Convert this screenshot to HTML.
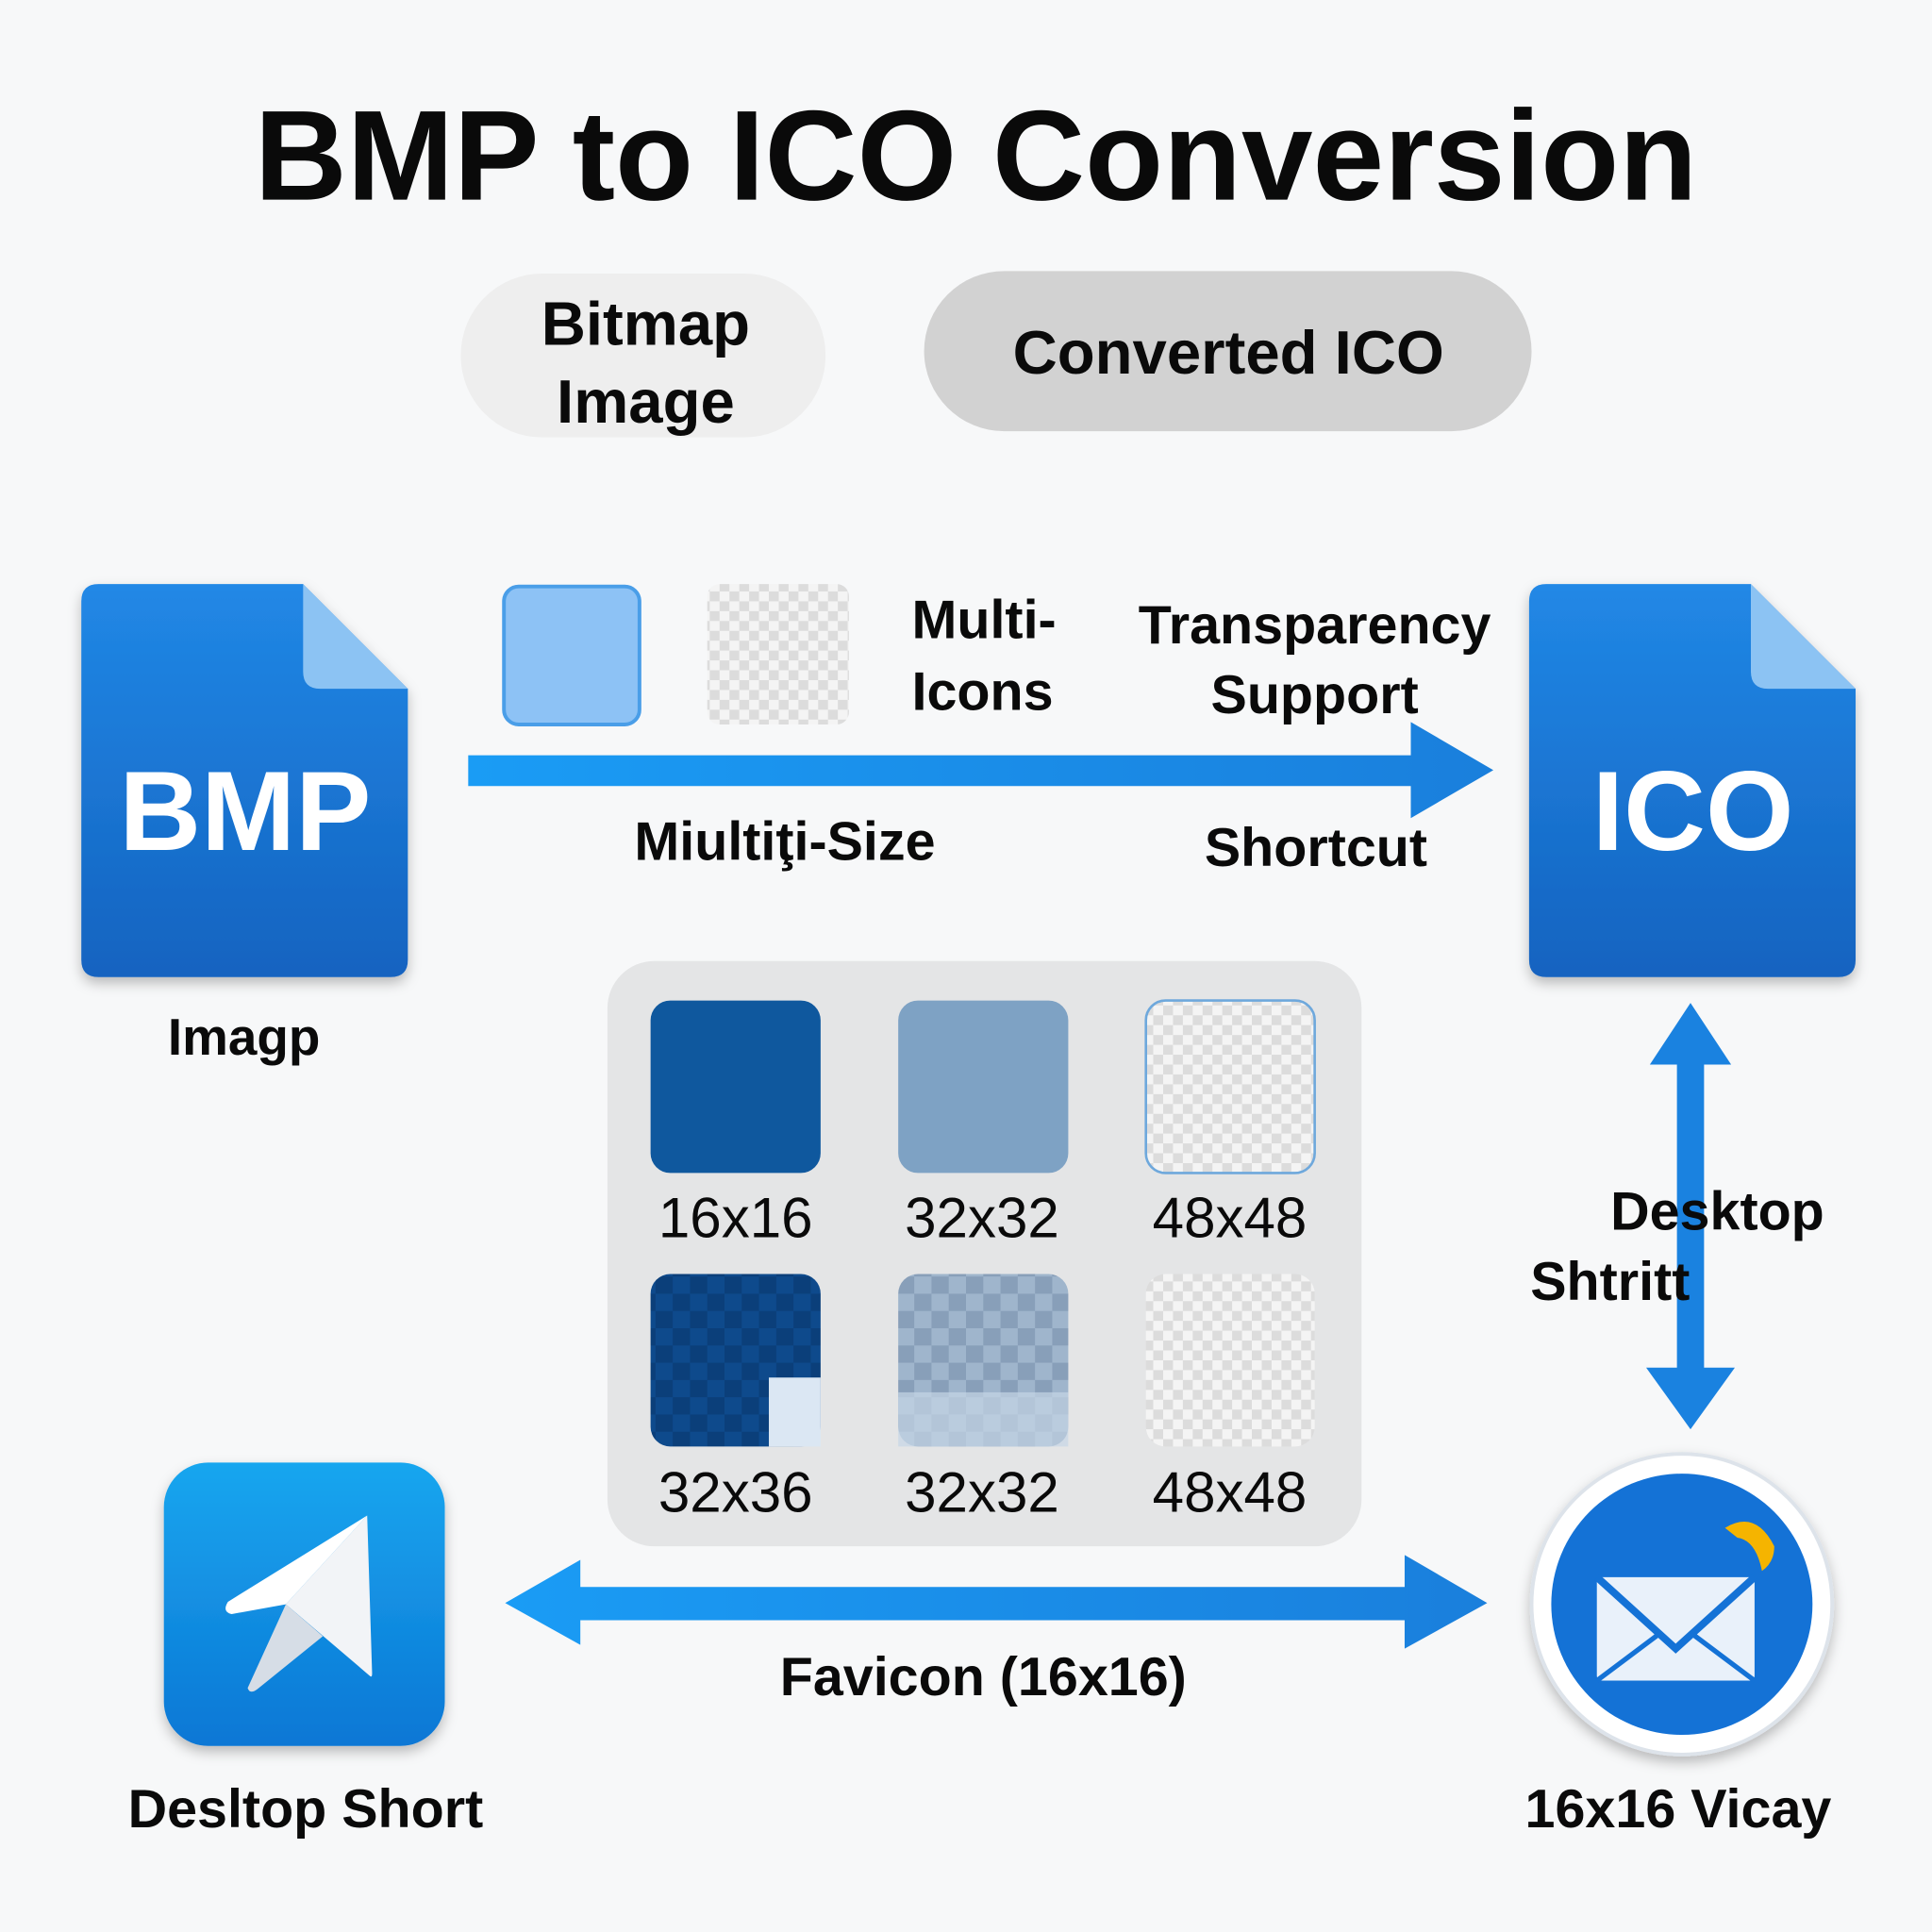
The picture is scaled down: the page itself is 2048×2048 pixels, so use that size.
<!DOCTYPE html>
<html><head><meta charset="utf-8"><style>
html,body{margin:0;padding:0;width:2048px;height:2048px;overflow:hidden;background:#f7f8f9}
svg{display:block}
text{font-family:"Liberation Sans",Arial,sans-serif;font-weight:bold;fill:#0a0a0a}
text.n{font-weight:normal}
</style></head><body>
<svg width="2048" height="2048" viewBox="0 0 1568 1568" xmlns="http://www.w3.org/2000/svg">
<defs>
<linearGradient id="doc" x1="0" y1="0" x2="0" y2="1"><stop offset="0" stop-color="#2188e6"/><stop offset="1" stop-color="#1463c0"/></linearGradient>
<linearGradient id="tg" x1="0" y1="0" x2="0" y2="1"><stop offset="0" stop-color="#19a6ef"/><stop offset="1" stop-color="#0b77d5"/></linearGradient>
<linearGradient id="arr" x1="0" y1="0" x2="1" y2="0"><stop offset="0" stop-color="#1a9cf5"/><stop offset="1" stop-color="#1a7fdc"/></linearGradient>
<pattern id="chk" width="16" height="16" patternUnits="userSpaceOnUse"><rect width="16" height="16" fill="#f4f4f4"/><rect width="8" height="8" fill="#dcdcdc"/><rect x="8" y="8" width="8" height="8" fill="#dcdcdc"/></pattern>
<pattern id="chkb" width="28" height="28" patternUnits="userSpaceOnUse"><rect width="28" height="28" fill="#0e4a8c"/><rect width="14" height="14" fill="#0b3f7a"/><rect x="14" y="14" width="14" height="14" fill="#0b3f7a"/></pattern>
<pattern id="chkg" width="28" height="28" patternUnits="userSpaceOnUse"><rect width="28" height="28" fill="#9fb5cc"/><rect width="14" height="14" fill="#889fb9"/><rect x="14" y="14" width="14" height="14" fill="#889fb9"/></pattern>
<filter id="sh" x="-20%" y="-20%" width="140%" height="140%"><feDropShadow dx="0" dy="5" stdDeviation="5" flood-opacity="0.25"/></filter>
</defs>

<text x="792" y="162" font-size="104" text-anchor="middle">BMP to ICO Conversion</text>

<rect x="374" y="222" width="296" height="133" rx="66" fill="#eeeeee"/>
<text x="524" y="280" font-size="50" text-anchor="middle">Bitmap</text>
<text x="524" y="343" font-size="50" text-anchor="middle">Image</text>
<rect x="750" y="220" width="493" height="130" rx="65" fill="#d2d2d2"/>
<text x="997" y="303" font-size="50" text-anchor="middle">Converted ICO</text>

<g filter="url(#sh)">
<path d="M80 474 H246 L331 559 V779 Q331 793 317 793 H80 Q66 793 66 779 V488 Q66 474 80 474 Z" fill="url(#doc)"/>
<path d="M246 474 V545 Q246 559 260 559 H331 Z" fill="#8cc3f3"/>
</g>
<text x="199" y="690" font-size="92" text-anchor="middle" style="fill:#fff">BMP</text>
<text x="198" y="856" font-size="42" text-anchor="middle">Imagp</text>

<g filter="url(#sh)">
<path d="M1255 474 H1421 L1506 559 V779 Q1506 793 1492 793 H1255 Q1241 793 1241 779 V488 Q1241 474 1255 474 Z" fill="url(#doc)"/>
<path d="M1421 474 V545 Q1421 559 1435 559 H1506 Z" fill="#8cc3f3"/>
</g>
<text x="1374" y="690" font-size="92" text-anchor="middle" style="fill:#fff">ICO</text>

<rect x="409" y="476" width="110" height="112" rx="12" fill="#8dc2f5" stroke="#4a9ee8" stroke-width="3"/>
<rect x="574" y="474" width="115" height="114" rx="10" fill="url(#chk)"/>
<text x="740" y="518" font-size="44">Multi-</text>
<text x="740" y="576" font-size="44">Icons</text>
<text x="1067" y="522" font-size="44" text-anchor="middle">Transparency</text>
<text x="1067" y="579" font-size="44" text-anchor="middle">Support</text>

<path d="M380 613 H1145 V586 L1212 625 L1145 664 V638 H380 Z" fill="url(#arr)"/>
<text x="637" y="698" font-size="44" text-anchor="middle">Miultiţi-Size</text>
<text x="1068" y="703" font-size="44" text-anchor="middle">Shortcut</text>

<rect x="493" y="780" width="612" height="475" rx="38" fill="#e4e5e6"/>
<rect x="528" y="812" width="138" height="140" rx="16" fill="#0f589e"/>
<rect x="729" y="812" width="138" height="140" rx="16" fill="#7ea2c4"/>
<rect x="930" y="812" width="137" height="140" rx="16" fill="url(#chk)" stroke="#6ea8dc" stroke-width="2"/>
<rect x="528" y="1034" width="138" height="140" rx="16" fill="url(#chkb)"/>
<rect x="624" y="1118" width="42" height="56" fill="#dbe7f3"/>
<rect x="729" y="1034" width="138" height="140" rx="16" fill="url(#chkg)"/>
<rect x="729" y="1130" width="138" height="44" fill="#c6d6e6" opacity="0.7"/>
<rect x="930" y="1034" width="137" height="140" rx="16" fill="url(#chk)"/>
<text class="n" x="597" y="1004" font-size="46" text-anchor="middle">16x16</text>
<text class="n" x="797" y="1004" font-size="46" text-anchor="middle">32x32</text>
<text class="n" x="998" y="1004" font-size="46" text-anchor="middle">48x48</text>
<text class="n" x="597" y="1227" font-size="46" text-anchor="middle">32x36</text>
<text class="n" x="797" y="1227" font-size="46" text-anchor="middle">32x32</text>
<text class="n" x="998" y="1227" font-size="46" text-anchor="middle">48x48</text>

<path d="M1372 814 L1405 864 H1383 V1110 H1408 L1372 1160 L1336 1110 H1361 V864 H1339 Z" fill="#1a82e0"/>
<text x="1307" y="998" font-size="44">Desktop</text>
<text x="1242" y="1055" font-size="44">Shtritt</text>

<path d="M410 1301 L471 1266 V1288 H1140 V1262 L1207 1301 L1140 1338 V1315 H471 V1335 Z" fill="url(#arr)"/>
<text x="798" y="1376" font-size="44" text-anchor="middle">Favicon (16x16)</text>

<rect x="133" y="1187" width="228" height="230" rx="36" fill="url(#tg)" filter="url(#sh)"/>
<path d="M298 1230 L185 1300 Q180 1308 188 1310 L232 1302 Z" fill="#fff"/>
<path d="M298 1230 L232 1302 L300 1360 Q302 1362 302 1358 Z" fill="#f2f4f7"/>
<path d="M232 1302 L201 1370 Q203 1376 210 1370 L262 1328 Z" fill="#d6dde6"/>
<text x="248" y="1483" font-size="44" text-anchor="middle">Desltop Short</text>

<circle cx="1365" cy="1302" r="122" fill="#fff" stroke="#dde3ea" stroke-width="3" filter="url(#sh)"/>
<circle cx="1365" cy="1302" r="106" fill="#1472d6"/>
<rect x="1296" y="1280" width="128" height="84" rx="4" fill="#e9f1fa"/>
<path d="M1296 1280 L1360 1338 L1424 1280" fill="none" stroke="#1472d6" stroke-width="6"/>
<path d="M1296 1364 L1348 1325 M1424 1364 L1372 1325" stroke="#1472d6" stroke-width="4"/>
<path d="M1400 1240 Q1425 1225 1440 1255 Q1440 1268 1430 1275 Q1425 1250 1410 1248 Z" fill="#f5b400"/>
<text x="1362" y="1483" font-size="44" text-anchor="middle">16x16 Vicay</text>
</svg>
</body></html>
